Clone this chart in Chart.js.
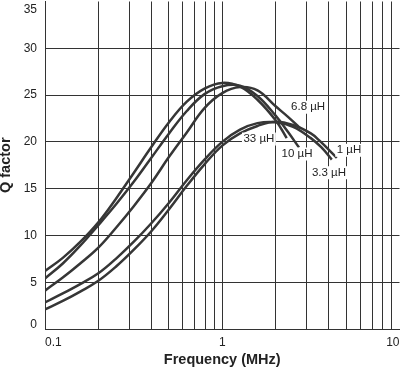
<!DOCTYPE html>
<html>
<head>
<meta charset="utf-8">
<script src="https://cdn.jsdelivr.net/npm/chart.js@4"></script>
<style>
  html, body { margin: 0; padding: 0; background: #fff; }
  canvas { display: block; }
</style>
</head>
<body>
<canvas id="chart" width="400" height="369"></canvas>
<script>
// grid / tick values
const xGrid = [0.1, 0.2, 0.3, 0.4, 0.5, 0.6, 0.7, 0.8, 0.9, 1, 2, 3, 4, 5, 6, 7, 8, 9, 10];
const xLabelVals = [0.1, 1, 10];
const yTicks = [0, 5, 10, 15, 20, 25, 30, 35];

// 33 µH
const f33 = [0.1, 0.126, 0.158, 0.2, 0.251, 0.316, 0.398, 0.501, 0.631, 0.794, 1.0, 1.26, 1.58, 2.0, 2.31];
const q33 = [6.2, 7.6, 9.3, 11.4, 13.9, 16.65, 19.45, 22.1, 24.3, 25.7, 26.3, 25.9, 24.5, 22.3, 20.4];
// 10 µH
const f10 = [0.1, 0.126, 0.158, 0.2, 0.251, 0.316, 0.398, 0.501, 0.631, 0.794, 1.0, 1.26, 1.58, 2.0, 2.34, 2.71];
const q10 = [5.4, 7.0, 8.9, 11.1, 13.3, 15.7, 18.3, 20.9, 23.3, 25.1, 25.95, 26.0, 24.9, 22.8, 21.1, 19.4];
// 6.8 µH
const f68 = [0.1, 0.126, 0.158, 0.2, 0.251, 0.316, 0.398, 0.501, 0.631, 0.794, 1.0, 1.26, 1.58, 2.0, 2.34, 2.74];
const q68 = [4.1, 5.5, 7.0, 8.7, 10.8, 13.1, 15.6, 18.4, 21.0, 23.6, 25.2, 25.85, 25.5, 23.8, 22.7, 21.5];
// 3.3 µH
const f33b = [0.1, 0.126, 0.158, 0.2, 0.251, 0.316, 0.398, 0.501, 0.631, 0.794, 1.0, 1.26, 1.58, 2.0, 2.51, 3.16, 3.63, 4.15];
const q33b = [2.85, 3.8, 4.8, 5.95, 7.5, 9.3, 11.3, 13.5, 15.9, 18.1, 20.0, 21.3, 22.0, 22.1, 21.6, 20.4, 19.4, 18.1];
// 1 µH
const f1 = [0.1, 0.126, 0.158, 0.2, 0.251, 0.316, 0.398, 0.501, 0.631, 0.794, 1.0, 1.26, 1.58, 2.0, 2.51, 3.16, 3.55, 4.43];
const q1 = [2.1, 3.0, 4.0, 5.15, 6.65, 8.45, 10.45, 12.8, 15.3, 17.6, 19.6, 20.9, 21.7, 22.15, 21.8, 20.9, 20.1, 18.3];

// curve labels, in data units (MHz, Q)
const curveLabels = [
  { text: '6.8 µH', f: 3.05, q: 23.7 },
  { text: '33 µH', f: 1.61, q: 20.3 },
  { text: '10 µH', f: 2.64, q: 18.7 },
  { text: '1 µH', f: 5.19, q: 19.1 },
  { text: '3.3 µH', f: 4.0, q: 16.7 },
];

const FONT = '"Liberation Sans", Arial, Helvetica, sans-serif';
const ink = '#222';
const gridCol = '#333';
const none = 'rgba(0,0,0,0)';

const series = [
  { name: '33 µH', f: f33, q: q33 },
  { name: '10 µH', f: f10, q: q10 },
  { name: '6.8 µH', f: f68, q: q68 },
  { name: '3.3 µH', f: f33b, q: q33b },
  { name: '1 µH', f: f1, q: q1 },
];

// y tick labels drawn by hand so the top one stays inside the canvas
const yLabelPlugin = {
  id: 'yLabels',
  afterDraw(chart) {
    const { ctx, chartArea, scales: { y } } = chart;
    ctx.save();
    ctx.font = `12px ${FONT}`;
    ctx.fillStyle = ink;
    ctx.textAlign = 'right';
    ctx.textBaseline = 'middle';
    yTicks.forEach(v => {
      let py = y.getPixelForValue(v);
      py = Math.min(Math.max(py, chartArea.top + 8), chartArea.bottom - 4);
      ctx.fillText(String(v), chartArea.left - 8, py);
    });
    ctx.restore();
  }
};

const curveLabelPlugin = {
  id: 'curveLabels',
  afterDatasetsDraw(chart) {
    const { ctx, scales: { x, y } } = chart;
    ctx.save();
    ctx.font = `11.5px ${FONT}`;
    ctx.textAlign = 'center';
    ctx.textBaseline = 'middle';
    curveLabels.forEach(l => {
      const px = x.getPixelForValue(l.f);
      const py = y.getPixelForValue(l.q);
      const w = ctx.measureText(l.text).width;
      ctx.fillStyle = '#fff';
      ctx.fillRect(px - w / 2 - 1.5, py - 6.5, w + 3, 13);
      ctx.fillStyle = ink;
      ctx.fillText(l.text, px, py);
    });
    ctx.restore();
  }
};

new Chart(document.getElementById('chart'), {
  type: 'line',
  data: {
    datasets: series.map(s => ({
      label: s.name,
      data: s.f.map((f, i) => ({ x: f, y: s.q[i] })),
      borderColor: '#363636',
      borderWidth: 2.5,
      pointRadius: 0,
      fill: false,
      tension: 0.4,
    })),
  },
  options: {
    responsive: false,
    animation: false,
    devicePixelRatio: 1,
    layout: { padding: { top: 1.5, right: 0.5, left: 0, bottom: 0 } },
    plugins: { legend: { display: false }, tooltip: { enabled: false } },
    scales: {
      x: {
        type: 'logarithmic',
        min: 0.1,
        max: 10,
        afterBuildTicks: ax => { ax.ticks = xGrid.map(v => ({ value: v })); },
        afterFit: s => { s.height = 40; s.paddingLeft = 0; s.paddingRight = 0; },
        grid: {
          color: ctx => (ctx.tick && ctx.tick.value === 10 ? none : gridCol),
          lineWidth: 1,
          drawTicks: false,
        },
        border: { color: gridCol, width: 1 },
        ticks: {
          align: 'inner',
          padding: 6,
          autoSkip: false,
          maxRotation: 0,
          color: ink,
          font: { family: FONT, size: 12 },
          callback: v => (xLabelVals.includes(v) ? String(v) : ''),
        },
        title: {
          display: true,
          text: 'Frequency (MHz)',
          color: ink,
          padding: 0,
          font: { family: FONT, size: 14.5, weight: 'bold' },
        },
      },
      y: {
        min: 0,
        max: 35,
        afterBuildTicks: ax => { ax.ticks = yTicks.map(v => ({ value: v })); },
        afterFit: s => { s.width = 45; s.paddingTop = 0; s.paddingBottom = 0; },
        grid: {
          color: ctx => (ctx.tick && ctx.tick.value === 35 ? none : gridCol),
          lineWidth: 1,
          drawTicks: false,
        },
        border: { color: gridCol, width: 1 },
        ticks: { display: false },
        title: {
          display: true,
          text: 'Q factor',
          color: ink,
          padding: { top: -1, bottom: 0 },
          font: { family: FONT, size: 14.5, weight: 'bold', lineHeight: 1 },
        },
      },
    },
  },
  plugins: [yLabelPlugin, curveLabelPlugin],
});
</script>
</body>
</html>
